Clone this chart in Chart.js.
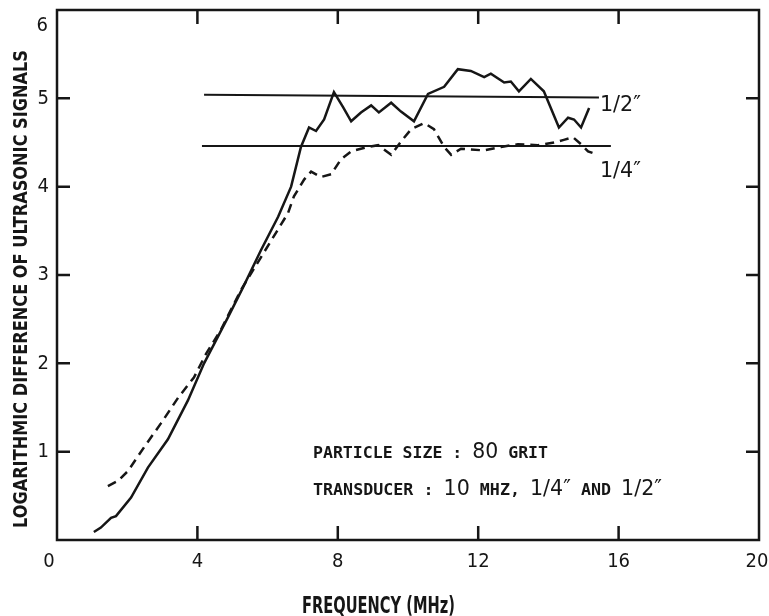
<!DOCTYPE html>
<html>
<head>
<meta charset="utf-8">
<script src="https://cdn.jsdelivr.net/npm/chart.js@4/dist/chart.umd.min.js"></script>
<style>
  html, body { margin: 0; padding: 0; background: #fff; }
</style>
</head>
<body>
<canvas id="chFreq" width="769" height="616"></canvas>
<script>
/* ultrasonic signal difference vs frequency, 80 grit */

// 1/2" transducer (solid)
var halfFreq = [1.05, 1.25, 1.54, 1.68, 2.11, 2.59, 3.16, 3.73, 4.19, 4.87, 5.30, 5.81, 6.30, 6.67, 6.95,
  7.18, 7.38, 7.61, 7.89, 8.15, 8.38, 8.66, 8.95, 9.17, 9.52, 9.80, 10.17, 10.57, 11.03, 11.42,
  11.79, 12.17, 12.36, 12.74, 12.93, 13.16, 13.50, 13.87, 14.30, 14.56, 14.73, 14.93, 15.16];
var halfSignal = [0.09, 0.14, 0.25, 0.27, 0.48, 0.82, 1.14, 1.58, 2.00, 2.52, 2.86, 3.28, 3.66, 4.00, 4.45,
  4.67, 4.63, 4.76, 5.07, 4.90, 4.74, 4.84, 4.92, 4.84, 4.95, 4.85, 4.74, 5.05, 5.13, 5.33,
  5.31, 5.24, 5.28, 5.18, 5.19, 5.08, 5.22, 5.08, 4.67, 4.78, 4.76, 4.67, 4.89];

// 1/4" transducer (dashed)
var quarterFreq = [1.45, 1.74, 2.02, 2.48, 2.96, 3.45, 3.90, 4.25, 4.67, 5.24, 5.81, 6.58, 6.75, 7.04, 7.24,
  7.52, 7.81, 8.09, 8.38, 8.86, 9.15, 9.52, 9.80, 10.09, 10.46, 10.74, 11.03, 11.23, 11.51, 12.17,
  12.65, 13.13, 13.70, 14.16, 14.44, 14.70, 14.93, 15.13, 15.41];
var quarterSignal = [0.61, 0.67, 0.78, 1.05, 1.32, 1.61, 1.84, 2.11, 2.38, 2.83, 3.20, 3.70, 3.89, 4.08, 4.17,
  4.11, 4.14, 4.31, 4.40, 4.45, 4.47, 4.36, 4.51, 4.65, 4.72, 4.65, 4.45, 4.36, 4.43, 4.41,
  4.45, 4.48, 4.47, 4.50, 4.53, 4.56, 4.48, 4.40, 4.36];

// horizontal reference levels
var halfRefFreq = [4.19, 15.44];
var halfRefLevel = [5.04, 5.01];
var quarterRefFreq = [4.13, 15.78];
var quarterRefLevel = [4.46, 4.46];

var xTicks = [0, 4, 8, 12, 16, 20];
var yTicks = [0, 1, 2, 3, 4, 5, 6];

var ink = "#161616";
var condFont = '"DejaVu Sans Condensed", "Liberation Sans Narrow", "DejaVu Sans", sans-serif';
var monoFont = '"DejaVu Sans Mono", "Liberation Mono", monospace';

function pts(xs, ys) {
  return xs.map(function (v, i) { return { x: v, y: ys[i] }; });
}

// draw a run of text pieces squeezed to a given width
function fitText(ctx, parts, x0, base, width) {
  var total = 0;
  parts.forEach(function (p) { ctx.font = p[1]; total += ctx.measureText(p[0]).width; });
  ctx.save();
  ctx.translate(x0, base);
  ctx.scale(width / total, 1);
  var x = 0;
  parts.forEach(function (p) {
    ctx.font = p[1];
    ctx.fillText(p[0], x, 0);
    x += ctx.measureText(p[0]).width;
  });
  ctx.restore();
}

var frame = {
  id: 'frame',
  afterDraw: function (chart) {
    var ctx = chart.ctx, a = chart.chartArea;
    var sx = chart.scales.x, sy = chart.scales.y;
    ctx.save();
    ctx.strokeStyle = ink;
    ctx.lineWidth = 2.5;
    ctx.strokeRect(a.left, a.top, a.right - a.left, a.bottom - a.top);

    ctx.beginPath();
    xTicks.slice(1, -1).forEach(function (v) {
      var px = sx.getPixelForValue(v);
      ctx.moveTo(px, a.bottom); ctx.lineTo(px, a.bottom - 14);
      ctx.moveTo(px, a.top); ctx.lineTo(px, a.top + 14);
    });
    yTicks.slice(1, -1).forEach(function (v) {
      var py = sy.getPixelForValue(v);
      ctx.moveTo(a.left, py); ctx.lineTo(a.left + 13, py);
      ctx.moveTo(a.right, py); ctx.lineTo(a.right - 13, py);
    });
    ctx.stroke();

    ctx.fillStyle = ink;

    // corner tick labels (kept out of the layout so they do not shrink the plot)
    ctx.font = '20px ' + condFont;
    ctx.textAlign = 'center';
    ctx.textBaseline = 'alphabetic';
    ctx.fillText(String(xTicks[0]), a.left - 8, a.bottom + 27);
    ctx.fillText(String(xTicks[xTicks.length - 1]), a.right - 2, a.bottom + 27);
    ctx.textAlign = 'right';
    ctx.fillText(String(yTicks[yTicks.length - 1]), a.left - 9, a.top + 21);

    ctx.textAlign = 'left';
    // axis titles
    fitText(ctx, [['FREQUENCY (MHz)', 'bold 23px ' + condFont]], 302, 613, 153);
    ctx.save();
    ctx.translate(27, 528);
    ctx.rotate(-Math.PI / 2);
    fitText(ctx, [['LOGARITHMIC DIFFERENCE OF ULTRASONIC SIGNALS', 'bold 20px ' + condFont]], 0, 0, 478);
    ctx.restore();

    // curve labels at the ends of the reference lines
    var lx1 = sx.getPixelForValue(halfRefFreq[1]) + 1;
    var lx2 = sx.getPixelForValue(quarterRefFreq[1]) - 11;
    fitText(ctx, [['1/2\u2033', '22px ' + condFont]], lx1, sy.getPixelForValue(halfRefLevel[1]) + 14, 41);
    fitText(ctx, [['1/4\u2033', '22px ' + condFont]], lx2, sy.getPixelForValue(quarterRefLevel[1]) + 31, 41);

    // annotation
    var sm = 'bold 16px ' + monoFont, big = '22px ' + condFont;
    fitText(ctx, [['PARTICLE SIZE : ', sm], ['80', big], [' GRIT', sm]], 313, 458, 235);
    fitText(ctx, [['TRANSDUCER : ', sm], ['10', big], [' MHZ, ', sm], ['1/4\u2033', big], [' AND ', sm], ['1/2\u2033', big]], 313, 495, 349);
    ctx.restore();
  }
};

var lineStyle = { borderColor: ink, borderWidth: 2.5, pointRadius: 0, tension: 0, fill: false };

new Chart(document.getElementById('chFreq'), {
  type: 'line',
  data: {
    datasets: [
      Object.assign({ data: pts(halfFreq, halfSignal) }, lineStyle),
      Object.assign({ data: pts(quarterFreq, quarterSignal), borderDash: [9, 6] }, lineStyle),
      Object.assign({ data: pts(halfRefFreq, halfRefLevel) }, lineStyle, { borderWidth: 2 }),
      Object.assign({ data: pts(quarterRefFreq, quarterRefLevel) }, lineStyle, { borderWidth: 2 })
    ]
  },
  options: {
    responsive: false,
    animation: false,
    devicePixelRatio: 1,
    layout: { padding: { top: 10, right: 10, left: 0, bottom: 0 } },
    plugins: {
      legend: { display: false },
      tooltip: { enabled: false }
    },
    scales: {
      x: {
        type: 'linear', min: 0, max: 20,
        afterBuildTicks: function (s) { s.ticks = xTicks.map(function (v) { return { value: v }; }); },
        afterFit: function (s) { s.height = 76; s.paddingLeft = 0; s.paddingRight = 0; },
        grid: { display: false, drawTicks: false },
        border: { display: false },
        ticks: {
          padding: 10, color: ink, maxRotation: 0, font: { family: condFont, size: 20 },
          callback: function (v) { return (v === xTicks[0] || v === xTicks[xTicks.length - 1]) ? '' : v; }
        }
      },
      y: {
        type: 'linear', min: 0, max: 6,
        afterBuildTicks: function (s) { s.ticks = yTicks.map(function (v) { return { value: v }; }); },
        afterFit: function (s) { s.width = 57; s.paddingTop = 0; s.paddingBottom = 0; },
        grid: { display: false, drawTicks: false },
        border: { display: false },
        ticks: {
          padding: 8, color: ink, font: { family: condFont, size: 20 },
          callback: function (v) { return (v === yTicks[0] || v === yTicks[yTicks.length - 1]) ? '' : v; }
        }
      }
    }
  },
  plugins: [frame]
});
</script>
</body>
</html>
